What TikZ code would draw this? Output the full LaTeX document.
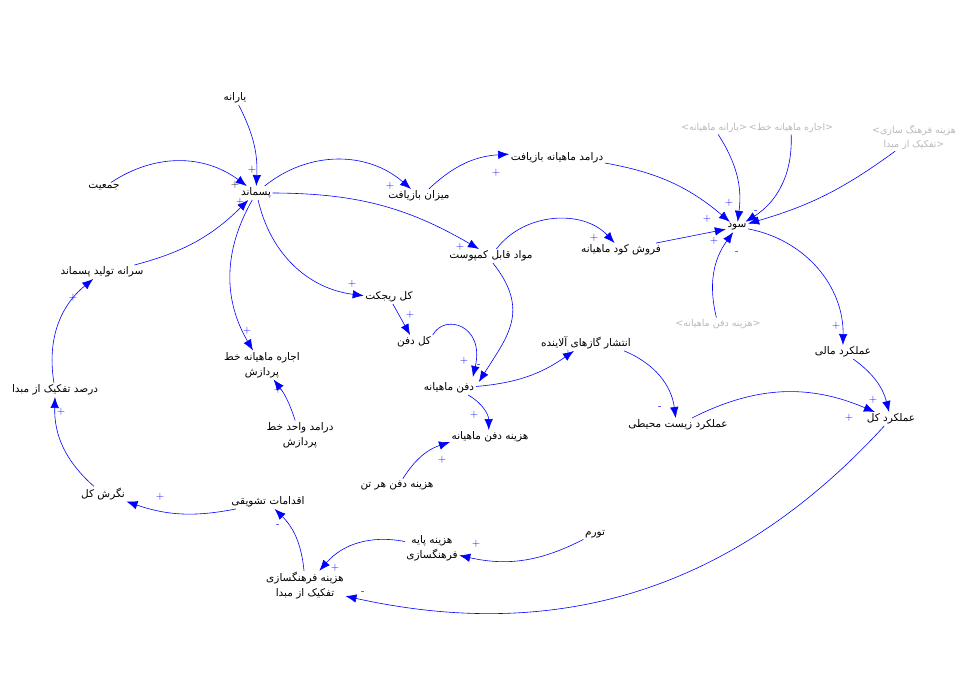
\documentclass[tikz,border=0pt]{standalone}
\usepackage{fontspec}
\usetikzlibrary{arrows.meta}
\newfontfamily\arabicfont[Script=Arabic]{DejaVu Sans}
\TeXXeTstate=1
\newcommand{\fa}[1]{\beginR #1\endR}
\definecolor{shadowgray}{RGB}{185,185,185}

\begin{document}
\begin{tikzpicture}[x=1pt,y=1pt,
  var/.style={inner sep=1.5pt,font=\arabicfont\fontsize{10.5}{15}\selectfont,align=center},
  shadow/.style={var,text=shadowgray,font=\arabicfont\fontsize{9.5}{14}\selectfont},
  lnk/.style={draw=blue,line width=0.6pt,-{Latex[length=11pt,width=8.5pt]}},
  pol/.style={inner sep=0pt,text=blue,font=\sffamily\fontsize{11}{11}\selectfont},
  polk/.style={pol,text=black}]
\useasboundingbox (0,0) rectangle (980,-700);

% variables
\node[var] (yarane) at (235,-98) {\fa{یارانه}};
\node[var] (jamiat) at (104,-187) {\fa{جمعیت}};
\node[var] (pasmand) at (256,-193) {\fa{پسماند}};
\node[var] (sarane) at (102,-272) {\fa{سرانه تولید پسماند}};
\node[var] (darsad) at (55,-390) {\fa{درصد تفکیک از مبدا}};
\node[var] (negaresh) at (103,-494) {\fa{نگرش کل}};
\node[var] (eqdamat) at (268,-502) {\fa{اقدامات تشویقی}};
\node[var] (hfarhang) at (305,-586) {\fa{هزینه فرهنگسازی}\\\fa{تفکیک از مبدا}};
\node[var] (hpaye) at (432,-548) {\fa{هزینه پایه}\\\fa{فرهنگسازی}};
\node[var] (tavarom) at (595,-534) {\fa{تورم}};
\node[var] (ejare) at (262,-365) {\fa{اجاره ماهیانه خط}\\\fa{پردازش}};
\node[var] (daramadvahed) at (300,-435) {\fa{درامد واحد خط}\\\fa{پردازش}};
\node[var] (mizan) at (419,-196) {\fa{میزان بازیافت}};
\node[var] (daramadbaz) at (557,-158) {\fa{درامد ماهیانه بازیافت}};
\node[var] (kompost) at (491,-256) {\fa{مواد قابل کمپوست}};
\node[var] (forush) at (621,-250) {\fa{فروش کود ماهیانه}};
\node[var] (rijekt) at (389,-297) {\fa{کل ریجکت}};
\node[var] (koldafn) at (414,-342) {\fa{کل دفن}};
\node[var] (dafn) at (449,-388) {\fa{دفن ماهیانه}};
\node[var] (hdafn) at (490,-437) {\fa{هزینه دفن ماهیانه}};
\node[var] (hdafnton) at (397,-485) {\fa{هزینه دفن هر تن}};
\node[var] (enteshar) at (586,-343) {\fa{انتشار گازهای آلاینده}};
\node[var] (zist) at (678,-425) {\fa{عملکرد زیست محیطی}};
\node[var] (mali) at (843,-352) {\fa{عملکرد مالی}};
\node[var] (amalkol) at (891,-419) {\fa{عملکرد کل}};
\node[var] (sud) at (737,-227) {\fa{سود}};

% shadow variables
\node[shadow] (gyarane) at (714,-128) {>\fa{یارانه ماهیانه}<};
\node[shadow] (gejare) at (791,-128) {>\fa{اجاره ماهیانه خط}<};
\node[shadow] (gfarhang) at (914,-137) {>\fa{هزینه فرهنگ سازی}\\\fa{تفکیک از مبدا}<};
\node[shadow] (ghdafn) at (718,-324) {>\fa{هزینه دفن ماهیانه}<};

% links
\draw[lnk] (yarane) to[bend left=15] (pasmand);
\draw[lnk] (jamiat) to[bend left=35] (pasmand);
\draw[lnk] (sarane) to[bend right=15] (pasmand);
\draw[lnk] (pasmand) to[bend left=40] (mizan);
\draw[lnk] (pasmand) to[bend left=15] (kompost);
\draw[lnk] (pasmand) to[bend right=35] (rijekt);
\draw[lnk] (pasmand) to[bend right=30] (ejare);
\draw[lnk] (mizan) to[bend left=20] (daramadbaz);
\draw[lnk] (daramadbaz) to[bend left=15] (sud);
\draw[lnk] (kompost) to[bend left=50] (forush);
\draw[lnk] (kompost.-75) .. controls +(38,-48) and +(28,45) .. ([xshift=3pt,yshift=-1pt]dafn.north east);
\draw[lnk] (forush) -- (sud);
\draw[lnk] (gyarane) to[bend left=20] (sud);
\draw[lnk] (gejare) to[bend left=30] (sud);
\draw[lnk] (gfarhang) to[bend left=10] (sud);
\draw[lnk] (ghdafn) to[bend left=25] (sud);
\draw[lnk] (sud) to[bend left=40] (mali);
\draw[lnk] (rijekt) -- (koldafn);
\draw[lnk] (koldafn.north east) .. controls +(12,22) and +(12,52) .. ([xshift=-3pt,yshift=4pt]dafn.north east);
\draw[lnk] (dafn) to[bend left=30] (hdafn);
\draw[lnk] (hdafnton) to[bend left=20] (hdafn);
\draw[lnk] (dafn) to[bend right=15] (enteshar);
\draw[lnk] (enteshar) to[bend left=30] (zist);
\draw[lnk] (zist) to[bend left=25] (amalkol);
\draw[lnk] (mali) to[bend left=20] (amalkol);
\draw[lnk] (amalkol) to[bend left=30] (hfarhang);
\draw[lnk] (tavarom) to[bend left=20] (hpaye);
\draw[lnk] (hpaye) to[bend right=30] (hfarhang);
\draw[lnk] (hfarhang) to[bend right=20] (eqdamat);
\draw[lnk] (eqdamat) to[bend left=15] (negaresh);
\draw[lnk] (negaresh) to[bend left=25] (darsad);
\draw[lnk] (darsad) to[bend left=30] (sarane);
\draw[lnk] (daramadvahed) to[bend right=10] (ejare);

% polarities
\node[polk] (s1) at (252,-170) {+};
\node[polk] (s2) at (235,-185) {+};
\node[pol] (s3) at (240,-202) {+};
\node[pol] (s4) at (390,-186) {+};
\node[pol] (s5) at (460,-247) {+};
\node[pol] (s6) at (352,-284) {+};
\node[pol] (s7) at (247,-331) {+};
\node[pol] (s8) at (496,-173) {+};
\node[pol] (s9) at (707,-219) {+};
\node[pol] (s10) at (594,-238) {+};
\node[pol] (s11) at (479,-366) {-};
\node[pol] (s12) at (714,-241) {+};
\node[pol] (s13) at (729,-203) {+};
\node[pol] (s14) at (756,-212) {-};
\node[pol] (s16) at (737,-253) {-};
\node[pol] (s17) at (836,-326) {+};
\node[pol] (s18) at (410,-315) {+};
\node[pol] (s19) at (464,-361) {+};
\node[pol] (s20) at (474,-415) {+};
\node[pol] (s21) at (442,-460) {+};
\node[pol] (s22) at (568,-354) {+};
\node[pol] (s23) at (660,-408) {-};
\node[pol] (s24) at (849,-418) {+};
\node[pol] (s25) at (873,-400) {+};
\node[pol] (s26) at (363,-593) {-};
\node[pol] (s27) at (476,-544) {+};
\node[pol] (s28) at (335,-568) {+};
\node[pol] (s29) at (278,-526) {-};
\node[pol] (s30) at (160,-497) {+};
\node[pol] (s31) at (61,-412) {+};
\node[pol] (s32) at (73,-298) {+};
\node[pol] (s33) at (278,-390) {+};

\end{tikzpicture}
\end{document}
